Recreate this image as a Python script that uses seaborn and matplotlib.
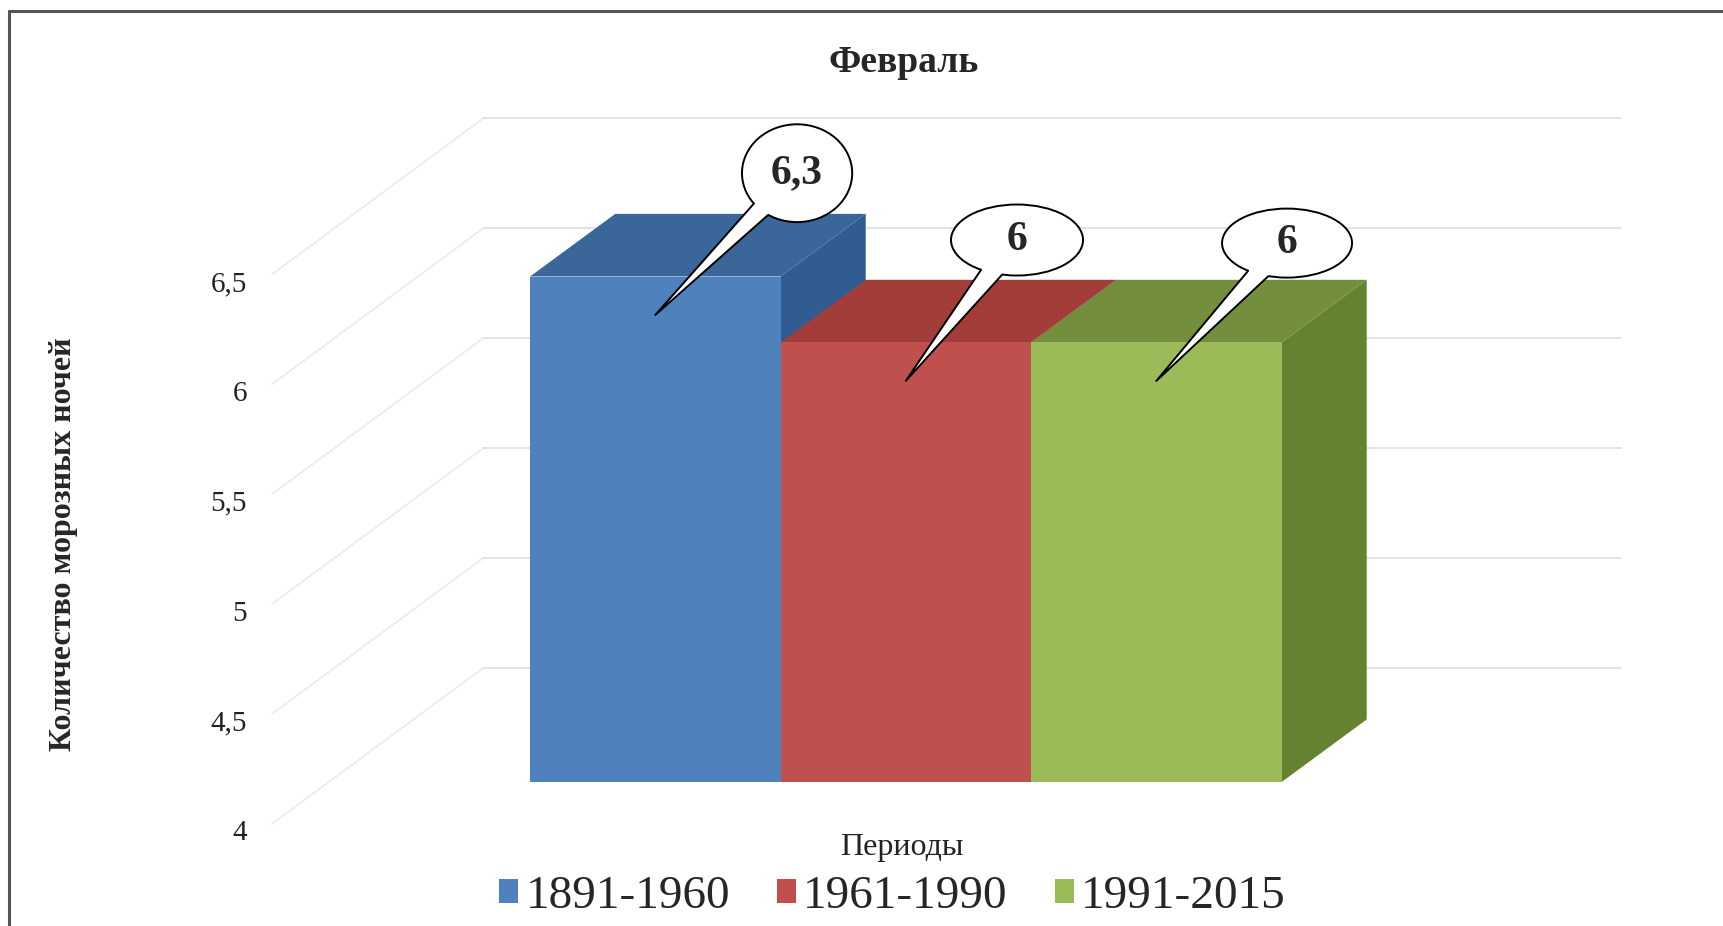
import numpy as np
import pandas as pd
import matplotlib
matplotlib.use("Agg")
import matplotlib.pyplot as plt
import seaborn as sns
from matplotlib.patches import Ellipse, Polygon
from matplotlib.lines import Line2D

# data
periods = ["1891-1960", "1961-1990", "1991-2015"]
frost_nights = [6.3, 6.0, 6.0]
y_ticks = [4, 4.5, 5, 5.5, 6, 6.5]
title = "Февраль"
y_title = "Количество морозных ночей"
x_title = "Периоды"

# colours (front / top / side of each 3d bar)
front_colors = ["#4f81bd", "#c0504d", "#9bbb59"]
top_colors = ["#3b6699", "#a33d3a", "#738f3e"]
side_colors = ["#305c92", "#8f3331", "#64822f"]
grid_color = "#e1e1e1"
wall_color = "#ececec"

# fake 3d geometry, in data units
base = 4.0
depth_x, depth_y = 0.34, 0.285
wall_front_x, wall_front_dy = -1.53, -0.19
wall_back_x, wall_back_dy = -0.686, 0.52
wall_right_x = 3.855
tick_dy = -0.22

# callouts: ellipse centre offset from bar top, ellipse size
callout_offsets = [(0.566, 0.47), (0.444, 0.466), (0.522, 0.452)]
callout_sizes = [(0.44, 0.445), (0.527, 0.323), (0.519, 0.314)]
tip_dy = -0.175


def fmt(v):
    return f"{v:g}".replace(".", ",")


sns.set_theme(style="white")
plt.rcParams["font.family"] = ["Liberation Serif", "DejaVu Serif"]

fig = plt.figure(figsize=(17.23, 9.26), dpi=100)
ax = fig.add_axes([250 / 1723, 76 / 926, 1390 / 1723, 750 / 926])

df = pd.DataFrame({"period": periods, "value": frost_nights})
df["height"] = df["value"] - base
sns.barplot(data=df, x="period", y="height", hue="period", palette=front_colors,
            saturation=1, width=1.0, bottom=base, linewidth=0, legend=False, ax=ax)
bars = list(ax.patches)

# left wall (diagonals) + back wall grid lines
for v in y_ticks:
    ax.plot([wall_front_x, wall_back_x], [v + wall_front_dy, v + wall_back_dy],
            color=wall_color, lw=1.3, zorder=0.4, solid_capstyle="round")
    ax.plot([wall_back_x, wall_right_x], [v + wall_back_dy, v + wall_back_dy],
            color=grid_color, lw=1.3, zorder=0.5, solid_capstyle="round")

# top and side faces
for i, (bar, v) in enumerate(zip(bars, frost_nights)):
    z = 2 + i
    bar.set_zorder(z + 0.1)
    x0, x1 = i - 0.5, i + 0.5
    top = Polygon([(x0, v), (x1, v), (x1 + depth_x, v + depth_y), (x0 + depth_x, v + depth_y)],
                  closed=True, fc=top_colors[i], ec="none", zorder=z)
    side = Polygon([(x1, base), (x1, v), (x1 + depth_x, v + depth_y), (x1 + depth_x, base + depth_y)],
                   closed=True, fc=side_colors[i], ec="none", zorder=z)
    ax.add_patch(side)
    ax.add_patch(top)

# callouts
for i, v in enumerate(frost_nights):
    cx, cy = i + callout_offsets[i][0], v + callout_offsets[i][1]
    w, h = callout_sizes[i]
    tx, ty = i, v + tip_dy
    t0 = np.arctan2((ty - cy) / (h / 2), (tx - cx) / (w / 2))
    d = np.radians(10)
    p1 = (cx + w / 2 * np.cos(t0 - d), cy + h / 2 * np.sin(t0 - d))
    p2 = (cx + w / 2 * np.cos(t0 + d), cy + h / 2 * np.sin(t0 + d))
    ax.add_patch(Ellipse((cx, cy), w, h, fc="white", ec="black", lw=1.4, zorder=10))
    ax.add_patch(Polygon([(tx, ty), p1, (cx, cy), p2], closed=True, fc="white", ec="none", zorder=11))
    ax.plot([p1[0], tx, p2[0]], [p1[1], ty, p2[1]], color="black", lw=1.4, zorder=12)
    ax.text(cx, cy, fmt(v), ha="center", va="center", fontsize=30,
            fontweight="bold", zorder=13)

ax.set_xlim(-1.618, 3.931)
ax.set_ylim(3.691, 7.103)
for s in ax.spines.values():
    s.set_visible(False)

ax.set_xticks([])
ax.set_yticks([v + tick_dy for v in y_ticks], labels=[fmt(v) for v in y_ticks])
ax.tick_params(axis="y", length=0, pad=2.2, labelsize=21, labelcolor="#222222")
ax.set_xlabel(x_title, fontsize=23, color="#222222")
ax.xaxis.set_label_coords(0.469, 0.022)
ax.set_ylabel(y_title, fontsize=23, fontweight="bold")
ax.yaxis.set_label_coords(-0.124, 0.408)

fig.text(904 / 1723, 1 - 62 / 926, title, ha="center", va="center",
         fontsize=27, fontweight="bold")

ax.legend(handles=bars, labels=periods, loc="center", bbox_to_anchor=(0.518, 0.032),
          bbox_transform=fig.transFigure, ncol=3, frameon=False, fontsize=34,
          handlelength=0.4, handleheight=0.4, handletextpad=0.15, columnspacing=1.0)

# chart frame
fig.add_artist(Line2D([9 / 1723, 1], [1 - 11 / 926, 1 - 11 / 926], color="#555555", lw=2.2))
fig.add_artist(Line2D([9 / 1723, 9 / 1723], [0, 1 - 11 / 926], color="#555555", lw=2.2))

fig.savefig("out.png", dpi=100)
